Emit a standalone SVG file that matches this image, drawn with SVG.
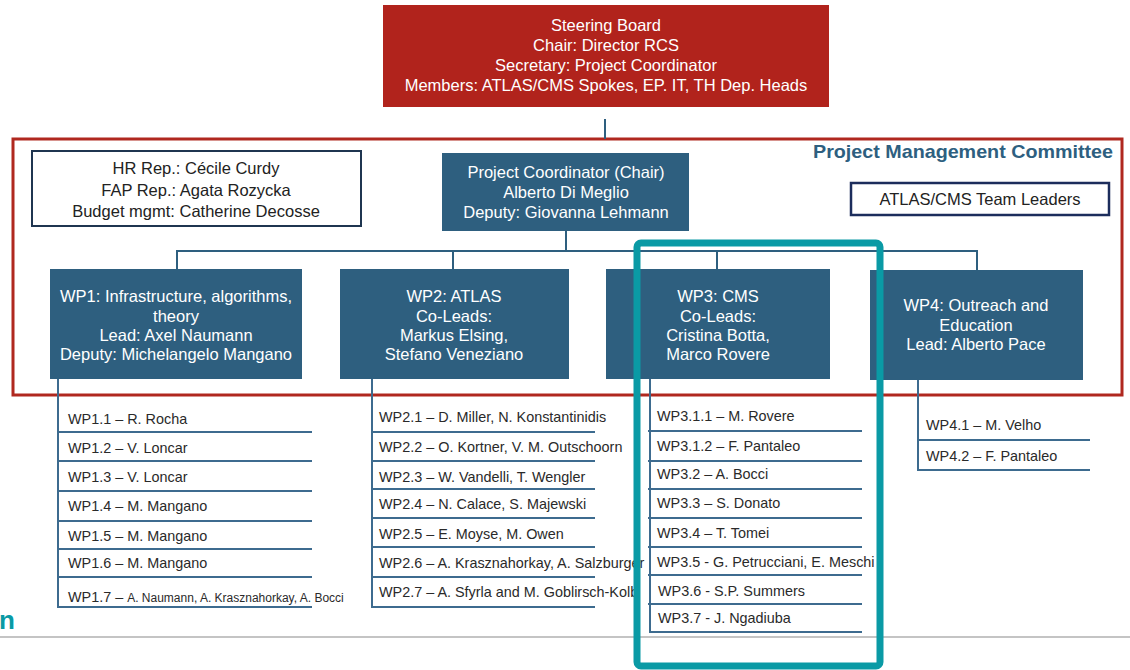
<svg xmlns="http://www.w3.org/2000/svg" width="1130" height="670" viewBox="0 0 1130 670">
<style>
text{font-family:"Liberation Sans",Arial,sans-serif}
.wt{fill:#ffffff;font-size:16.5px;text-anchor:middle}
.dt{fill:#222222;font-size:16.5px;text-anchor:middle}
.li{fill:#2a2a2a;font-size:14.4px}
.box{fill:#2e5f7f}
.conn{stroke:#2e5f7f;stroke-width:2;fill:none}
.ll{stroke:#3d6b8f;stroke-width:2;fill:none}
</style>
<rect width="1130" height="670" fill="#ffffff"/>

<g id="pmc-frame">
<rect x="13" y="139" width="1109" height="256" fill="none" stroke="#b0281f" stroke-width="3"/>
<text x="1113" y="158" font-size="18.5" font-weight="bold" fill="#2e5f80" text-anchor="end" textLength="300" lengthAdjust="spacingAndGlyphs">Project Management Committee</text>
</g>

<g id="connectors">
<line class="conn" x1="605" y1="119" x2="605" y2="139"/>
<polyline class="conn" points="566,231 566,251"/>
<polyline class="conn" points="177,269 177,251 977,251 977,270"/>
<line class="conn" x1="453" y1="251" x2="453" y2="269"/>
<line class="conn" x1="717" y1="251" x2="717" y2="269"/>
<!-- WP1 list lines -->
<polyline class="ll" points="58,379 58,607 312,607"/>
<line class="ll" x1="58" y1="432" x2="312" y2="432"/>
<line class="ll" x1="58" y1="461" x2="312" y2="461"/>
<line class="ll" x1="58" y1="491" x2="312" y2="491"/>
<line class="ll" x1="58" y1="521" x2="312" y2="521"/>
<line class="ll" x1="58" y1="549" x2="312" y2="549"/>
<line class="ll" x1="58" y1="577" x2="312" y2="577"/>
<!-- WP2 list lines -->
<polyline class="ll" points="372,379 372,607 595,607"/>
<line class="ll" x1="372" y1="432" x2="595" y2="432"/>
<line class="ll" x1="372" y1="461" x2="595" y2="461"/>
<line class="ll" x1="372" y1="489" x2="595" y2="489"/>
<line class="ll" x1="372" y1="518" x2="595" y2="518"/>
<line class="ll" x1="372" y1="547" x2="595" y2="547"/>
<line class="ll" x1="372" y1="577" x2="595" y2="577"/>
<!-- WP3 list lines -->
<polyline class="ll" points="650,379 650,632 862,632"/>
<line class="ll" x1="648" y1="431" x2="862" y2="431"/>
<line class="ll" x1="648" y1="461" x2="862" y2="461"/>
<line class="ll" x1="648" y1="489" x2="862" y2="489"/>
<line class="ll" x1="648" y1="518" x2="862" y2="518"/>
<line class="ll" x1="648" y1="547" x2="862" y2="547"/>
<line class="ll" x1="648" y1="575" x2="862" y2="575"/>
<line class="ll" x1="648" y1="604" x2="862" y2="604"/>
<!-- WP4 list lines -->
<polyline class="ll" points="918,380 918,470 1090,470"/>
<line class="ll" x1="918" y1="440" x2="1090" y2="440"/>
</g>

<g id="steering-board">
<rect x="383" y="5" width="446" height="102" fill="#b1231c"/>
<text class="wt" x="606" y="31">Steering Board</text>
<text class="wt" x="606" y="51">Chair: Director RCS</text>
<text class="wt" x="606" y="71">Secretary: Project Coordinator</text>
<text class="wt" x="606" y="91">Members: ATLAS/CMS Spokes, EP. IT, TH Dep. Heads</text>
</g>

<g id="hr-box">
<rect x="32" y="151" width="329" height="75" fill="#ffffff" stroke="#1f3550" stroke-width="2"/>
<text class="dt" x="196" y="174">HR Rep.: Cécile Curdy</text>
<text class="dt" x="196" y="196">FAP Rep.: Agata Rozycka</text>
<text class="dt" x="196" y="217">Budget mgmt: Catherine Decosse</text>
</g>

<g id="project-coordinator">
<rect class="box" x="442" y="153" width="247" height="78"/>
<text class="wt" x="566" y="178">Project Coordinator (Chair)</text>
<text class="wt" x="566" y="198">Alberto Di Meglio</text>
<text class="wt" x="566" y="218">Deputy: Giovanna Lehmann</text>
</g>

<g id="team-leaders">
<rect x="851" y="183" width="258" height="32" fill="#ffffff" stroke="#1c2d5c" stroke-width="2.5"/>
<text class="dt" x="980" y="205">ATLAS/CMS Team Leaders</text>
</g>

<g id="wp1">
<rect class="box" x="50" y="269" width="252" height="110"/>
<text class="wt" x="176" y="302">WP1: Infrastructure, algorithms,</text>
<text class="wt" x="176" y="322">theory</text>
<text class="wt" x="176" y="341">Lead: Axel Naumann</text>
<text class="wt" x="176" y="360">Deputy: Michelangelo Mangano</text>
</g>

<g id="wp2">
<rect class="box" x="340" y="269" width="229" height="110"/>
<text class="wt" x="454" y="302">WP2: ATLAS</text>
<text class="wt" x="454" y="322">Co-Leads:</text>
<text class="wt" x="454" y="341">Markus Elsing,</text>
<text class="wt" x="454" y="360">Stefano Veneziano</text>
</g>

<g id="wp3">
<rect class="box" x="606" y="269" width="224" height="110"/>
<text class="wt" x="718" y="302">WP3: CMS</text>
<text class="wt" x="718" y="322">Co-Leads:</text>
<text class="wt" x="718" y="341">Cristina Botta,</text>
<text class="wt" x="718" y="360">Marco Rovere</text>
</g>

<g id="wp4">
<rect class="box" x="870" y="270" width="213" height="110"/>
<text class="wt" x="976" y="311">WP4: Outreach and</text>
<text class="wt" x="976" y="331">Education</text>
<text class="wt" x="976" y="350">Lead: Alberto Pace</text>
</g>

<g id="wp1-list">
<text class="li" x="68" y="424">WP1.1 – R. Rocha</text>
<text class="li" x="68" y="453">WP1.2 – V. Loncar</text>
<text class="li" x="68" y="482">WP1.3 – V. Loncar</text>
<text class="li" x="68" y="511">WP1.4 – M. Mangano</text>
<text class="li" x="68" y="541">WP1.5 – M. Mangano</text>
<text class="li" x="68" y="568">WP1.6 – M. Mangano</text>
<text class="li" x="68" y="602">WP1.7 – <tspan font-size="12">A. Naumann, A. Krasznahorkay, A. Bocci</tspan></text>
</g>

<g id="wp2-list">
<text class="li" x="379" y="422">WP2.1 – D. Miller, N. Konstantinidis</text>
<text class="li" x="379" y="452">WP2.2 – O. Kortner, V. M. Outschoorn</text>
<text class="li" x="379" y="482">WP2.3 – W. Vandelli, T. Wengler</text>
<text class="li" x="379" y="509">WP2.4 – N. Calace, S. Majewski</text>
<text class="li" x="379" y="539">WP2.5 – E. Moyse, M. Owen</text>
<text class="li" x="379" y="568">WP2.6 – A. Krasznahorkay, A. Salzburger</text>
<text class="li" x="379" y="597">WP2.7 – A. Sfyrla and M. Goblirsch-Kolb</text>
</g>

<g id="wp3-list">
<text class="li" x="657" y="421">WP3.1.1 – M. Rovere</text>
<text class="li" x="657" y="451">WP3.1.2 – F. Pantaleo</text>
<text class="li" x="657" y="479">WP3.2 – A. Bocci</text>
<text class="li" x="657" y="508">WP3.3 – S. Donato</text>
<text class="li" x="657" y="538">WP3.4 – T. Tomei</text>
<text class="li" x="657" y="567">WP3.5 - G. Petrucciani, E. Meschi</text>
<text class="li" x="658" y="596">WP3.6 - S.P. Summers</text>
<text class="li" x="658" y="623">WP3.7 - J. Ngadiuba</text>
</g>

<g id="wp4-list">
<text class="li" x="926" y="430">WP4.1 – M. Velho</text>
<text class="li" x="926" y="461">WP4.2 – F. Pantaleo</text>
</g>

<g id="footer">
<line x1="0" y1="637" x2="1130" y2="637" stroke="#8a8a8a" stroke-width="1.2"/>
<text x="-1" y="629" font-size="26" font-weight="bold" fill="#0a9aa5">n</text>
</g>

<g id="highlight">
<rect x="637" y="243" width="243" height="423" rx="4" fill="none" stroke="#0a9aa5" stroke-width="7"/>
</g>
</svg>
